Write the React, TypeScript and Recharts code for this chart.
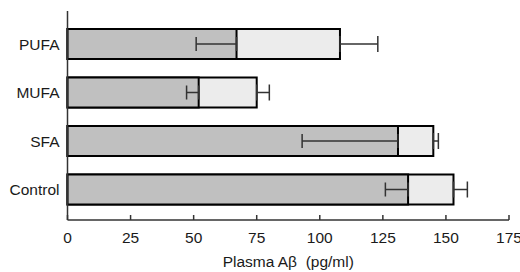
import React from 'react';
import { BarChart, Bar, XAxis, YAxis, ErrorBar } from 'recharts';

const categories = ['PUFA', 'MUFA', 'SFA', 'Control'];
const darkValues = [67, 52, 131, 135];
const darkErrors = [16, 4.8, 38, 9];
const lightValues = [108, 75, 145, 153];
const lightErrors = [15, 5, 2, 5.5];
const xTicks = [0, 25, 50, 75, 100, 125, 150, 175];

const data = categories.map((c, i) => ({
  name: c,
  dark: darkValues[i],
  darkErr: [darkErrors[i], 0],
  light: lightValues[i],
  lightErr: [0, lightErrors[i]],
}));

const FONT = '"Liberation Sans", Arial, sans-serif';

const XTick = (props: any) => {
  const { x, y, payload } = props;
  return (
    <g>
      <line x1={x} x2={x} y1={y - 5} y2={y} stroke="#333" strokeWidth={1.5} />
      <text x={x} y={y + 23} textAnchor="middle" fontSize={15.5} fontFamily={FONT} fill="#1a1a1a">
        {payload.value}
      </text>
    </g>
  );
};

const AxisTitle = (props: any) => {
  const vb = props.viewBox || {};
  return (
    <text
      x={vb.x + vb.width / 2}
      y={vb.y + 46.5}
      textAnchor="middle"
      fontSize={15.5}
      fontFamily={FONT}
      fill="#1a1a1a"
      style={{ whiteSpace: 'pre' }}
    >
      {'Plasma A\u03b2  (pg/ml)'}
    </text>
  );
};

export default function App() {
  return (
    <div style={{ position: 'absolute', left: 0, top: 0, width: 520, height: 272, background: '#fff' }}>
      <BarChart
        width={520}
        height={272}
        data={data}
        layout="vertical"
        margin={{ top: 11, right: 11, bottom: 0, left: 0 }}
        barGap={-30}
      >
        <XAxis
          type="number"
          domain={[0, 175]}
          ticks={xTicks}
          interval={0}
          height={52}
          tickSize={0}
          tickMargin={0}
          tickLine={false}
          axisLine={{ stroke: '#333', strokeWidth: 1.5 }}
          tick={<XTick />}
          label={<AxisTitle />}
        />
        <YAxis
          type="category"
          dataKey="name"
          width={67.5}
          padding={{ top: 9, bottom: 6 }}
          tickLine={false}
          tickSize={0}
          tickMargin={8}
          axisLine={{ stroke: '#333', strokeWidth: 1.5 }}
          tick={{ fontSize: 15.5, fontFamily: FONT, fill: '#1a1a1a' }}
        />
        <Bar dataKey="light" fill="#ececec" stroke="#000" strokeWidth={2} barSize={30} isAnimationActive={false}>
          <ErrorBar dataKey="lightErr" direction="x" width={8} stroke="#333" strokeWidth={1.5} />
        </Bar>
        <Bar dataKey="dark" fill="#c0c0c0" stroke="#000" strokeWidth={2} barSize={30} isAnimationActive={false}>
          <ErrorBar dataKey="darkErr" direction="x" width={7} stroke="#333" strokeWidth={1.5} />
        </Bar>
      </BarChart>
    </div>
  );
}
